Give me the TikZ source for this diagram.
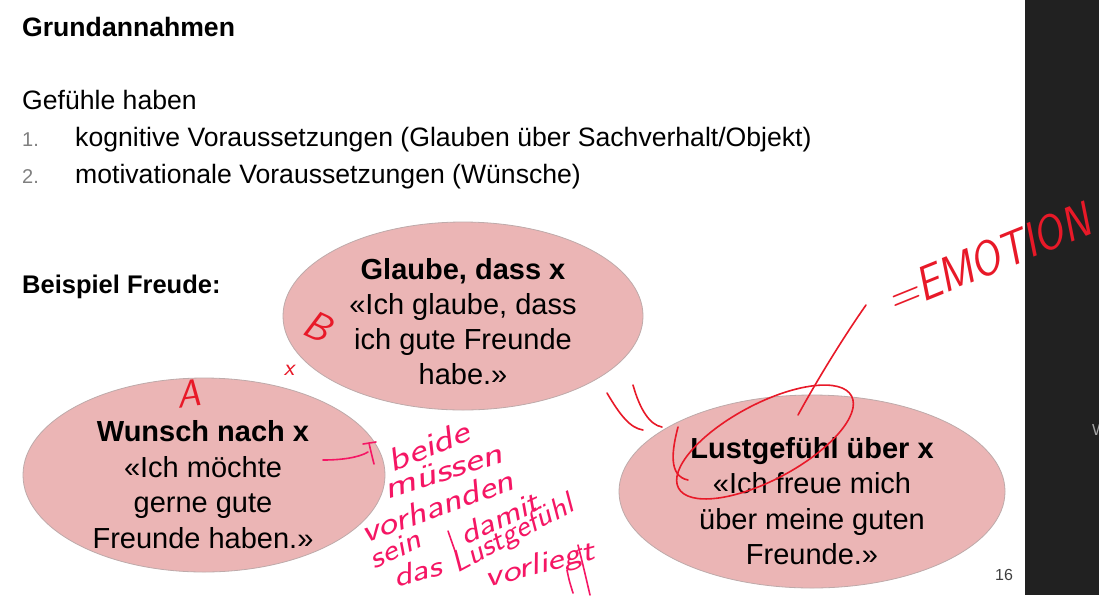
\documentclass[tikz,border=0pt]{standalone}
\usepackage{fontspec}
\usepackage{graphicx}
\usetikzlibrary{shapes.geometric}
\setmainfont{Liberation Sans}
\newcommand{\handfont}{\sffamily\slshape}
\definecolor{bub}{RGB}{235,181,181}
\definecolor{bubline}{RGB}{190,170,170}
\definecolor{penred}{RGB}{232,25,40}
\definecolor{penpink}{RGB}{245,22,100}
\definecolor{barcol}{RGB}{33,33,33}
\definecolor{numgray}{RGB}{128,128,128}
\begin{document}
\begin{tikzpicture}[x=1pt,y=-1pt,
  bubble/.style={ellipse, fill=bub, draw=bubline, line width=0.8pt, inner sep=0pt},
  tx/.style={anchor=base, inner sep=0pt, font=\fontsize{29}{35}\selectfont},
  hd/.style={anchor=base west, inner sep=0pt, font=\fontsize{26.6}{31}\selectfont},
  num/.style={anchor=base west, inner sep=0pt, text=numgray, font=\fontsize{20}{24}\selectfont},
  hw/.style={draw=penred, line width=1.6pt, line cap=round, line join=round},
  hwp/.style={draw=penpink, line width=1.6pt, line cap=round, line join=round},
  hred/.style={inner sep=0pt, text=penred, font=\handfont\fontsize{#1}{#1}\selectfont},
  hpink/.style={inner sep=0pt, text=penpink, font=\handfont\fontsize{#1}{#1}\selectfont}
]
\useasboundingbox (0,0) rectangle (1099,595);
\fill[white] (0,0) rectangle (1099,595);
\fill[barcol] (1025,0) rectangle (1099,595);
\node[anchor=base west, inner sep=0pt, text=gray!70, font=\fontsize{16}{18}\selectfont] (edge) at (1092,435) {W};

% header text
\node[hd] (title) at (22,36) {\bfseries Grundannahmen};
\node[hd] (gef) at (22,109) {Gefühle haben};
\node[num] (n1) at (22,146) {1.};
\node[hd] (l1) at (75,146) {kognitive Voraussetzungen (Glauben über Sachverhalt/Objekt)};
\node[num] (n2) at (22,183) {2.};
\node[hd] (l2) at (75,183) {motivationale Voraussetzungen (Wünsche)};
\node[hd, font=\fontsize{25.5}{30}\selectfont] (bsp) at (22,293) {\bfseries Beispiel Freude:};

% bubbles
\node[bubble, minimum width=360pt, minimum height=188pt] (glaube) at (463,316) {};
\node[bubble, minimum width=362pt, minimum height=194pt] (wunsch) at (204,475) {};
\node[bubble, minimum width=386pt, minimum height=193pt] (lust) at (812,491.5) {};

\node[tx] (g1) at (463,279) {\bfseries Glaube, dass x};
\node[tx] (g2) at (463,314) {«Ich glaube, dass};
\node[tx] (g3) at (463,349) {ich gute Freunde};
\node[tx] (g4) at (463,384) {habe.»};

\node[tx] (w1) at (203,441) {\bfseries Wunsch nach x};
\node[tx] (w2) at (203,477) {«Ich möchte};
\node[tx] (w3) at (203,512) {gerne gute};
\node[tx] (w4) at (203,548) {Freunde haben.»};

\node[tx] (u1) at (812,458) {\bfseries Lustgefühl über x};
\node[tx] (u2) at (812,493) {«Ich freue mich};
\node[tx] (u3) at (812,529) {über meine guten};
\node[tx] (u4) at (812,564) {Freunde.»};

\node[anchor=base, inner sep=0pt, text=black!75, font=\fontsize{16}{18}\selectfont] (page) at (1004,580) {16};

% red handwriting
\node[hred=40, rotate=-25] (hb) at (318,326) {B};
\node[hred=24] (hx) at (289,370) {x};
\node[hred=38, rotate=8] (ha) at (188,394) {A};
\node[hred=44, rotate=22] (emo) at (988,258) {\scalebox{0.97}[1.1]{=EMOTION}};
\draw[hw] (607,393) .. controls (620,415) and (630,428) .. (643,430);
\draw[hw] (633,385) .. controls (640,410) and (650,425) .. (662,427);
\draw[hw, rotate around={28:(765,442)}] (765,442) ellipse [x radius=98, y radius=38];
\draw[hw] (678,427) .. controls (672,450) and (668,476) .. (688,480);
\draw[hw] (798,415) .. controls (820,375) and (845,335) .. (866,305);

% pink handwriting
\draw[hwp] (323,460) .. controls (340,460) and (358,458) .. (368,452);
\draw[hwp] (363,444) -- (376,442);
\draw[hwp] (369,443) .. controls (371,452) .. (374,464);
\node[hpink=32, rotate=22] (t1) at (428,446) {\scalebox{1.3}[1]{beide}};
\node[hpink=32, rotate=18] (t2) at (443,471) {\scalebox{1.35}[1]{müssen}};
\node[hpink=32, rotate=20] (t3) at (437,506) {\scalebox{1.25}[1]{vorhanden}};
\node[hpink=30, rotate=25] (t4) at (395,549) {\scalebox{1.2}[1]{sein}};
\draw[hwp] (448,531) -- (455,551);
\node[hpink=30, rotate=25] (t5) at (499,518) {\scalebox{1.25}[1]{damit}};
\node[hpink=30, rotate=15] (t6) at (417,571) {\scalebox{1.25}[1]{das}};
\node[hpink=30, rotate=28] (t7) at (513,535) {\scalebox{1.1}[1]{Lustgefühl}};
\node[hpink=30, rotate=15] (t8) at (540,566) {\scalebox{1.3}[1]{vorliegt}};
\draw[hwp] (567,570) .. controls (569,580) .. (573,593);
\draw[hwp] (578,545) .. controls (583,565) .. (590,595);
\end{tikzpicture}
\end{document}
